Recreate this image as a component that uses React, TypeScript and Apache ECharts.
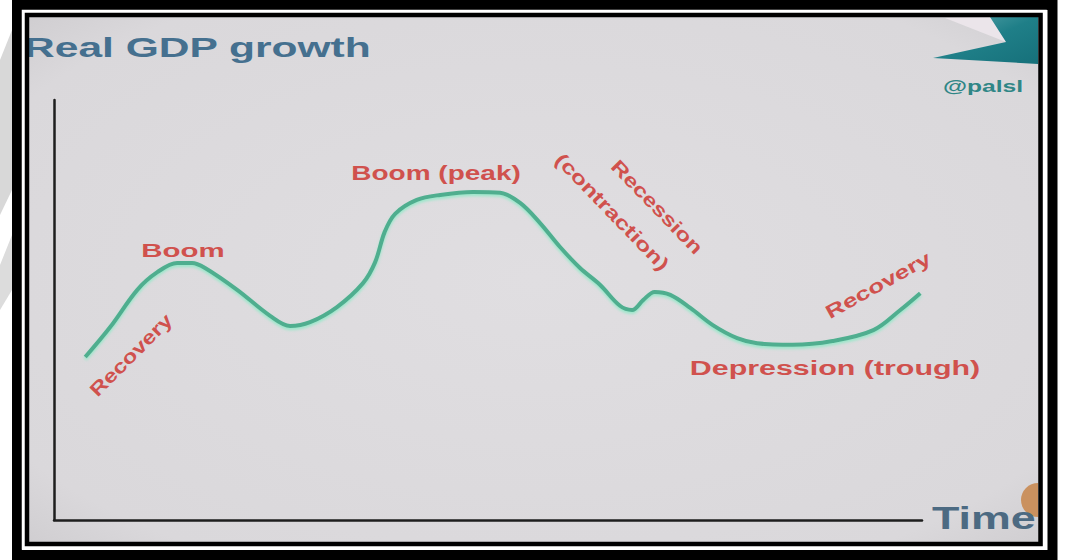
import React, { useEffect, useRef } from "react";
import * as echarts from "echarts";

// Time (x) and real GDP level (y) (arbitrary units 0–100)
const timeValues = [3.6, 6.5, 9.6, 11.9, 14.2, 15.9, 17.4, 21.1, 24.9, 27.2, 29.5, 32.6, 35.6, 37.0, 38.1, 39.3, 41.8, 44.5, 48.3, 51.4, 53.7, 56.0, 58.3, 60.6, 62.9, 65.2, 66.6, 67.9, 69.2, 71.0, 73.3, 75.9, 78.7, 81.0, 85.1, 89.7, 94.4, 97.5, 99.8];
const gdpValues = [38.8, 46.0, 54.8, 59.0, 61.2, 61.2, 60.0, 54.8, 48.6, 46.2, 47.1, 50.7, 56.4, 61.4, 68.6, 72.9, 76.2, 77.4, 78.1, 77.9, 75.5, 70.7, 65.0, 60.0, 56.0, 51.0, 50.0, 52.4, 54.3, 53.6, 50.5, 46.4, 43.3, 42.1, 41.7, 42.6, 45.2, 50.0, 54.0];

const titleText = "Real GDP growth";
const xAxisName = "Time";
const logoText = "@palsl";
const phaseLabels = ["Recovery", "Boom", "Boom (peak)", "(contraction)", "Recession", "Depression (trough)", "Recovery"];

// layout for the phase labels (centre x, centre y, rotation deg, font size, horizontal stretch)
const labelLayout = [
  [131, 355, 45, 19, 1.26],
  [183, 250, 0, 19, 1.55],
  [436, 173, 0, 20, 1.4],
  [612, 212, -46, 19, 1.33],
  [657, 207, -46, 19, 1.29],
  [835, 368, 0, 20, 1.52],
  [878, 285, 29, 19, 1.37],
];

const FONT = "'Liberation Sans', Arial, sans-serif";

export default function App() {
  const ref = useRef<HTMLDivElement>(null);

  useEffect(() => {
    const chart = echarts.init(ref.current!, null, { renderer: "svg" });
    const data = timeValues.map((t, i) => [t, gdpValues[i]]);

    const labelEls = phaseLabels.map((txt, i) => {
      const [x, y, rot, fs, sx] = labelLayout[i];
      return {
        type: "text",
        x,
        y,
        rotation: (rot * Math.PI) / 180,
        scaleX: sx,
        z: 50,
        style: {
          text: txt,
          fill: "#d0514d",
          fontSize: fs,
          fontWeight: "bold",
          fontFamily: FONT,
          align: "center",
          verticalAlign: "middle",
          shadowColor: "rgba(255,140,140,0.6)",
          shadowBlur: 3,
        },
      };
    });

    chart.setOption({
      animation: false,
      backgroundColor: "#ffffff",
      grid: { left: 54, right: 150, top: 100, bottom: 40 },
      xAxis: {
        type: "value",
        min: 0,
        max: 100,
        axisLine: { show: true, lineStyle: { color: "#1e1e1e", width: 2.5 } },
        axisTick: { show: false },
        axisLabel: { show: false },
        splitLine: { show: false },
      },
      yAxis: {
        type: "value",
        min: 0,
        max: 100,
        axisLine: { show: true, lineStyle: { color: "#1e1e1e", width: 2.5 } },
        axisTick: { show: false },
        axisLabel: { show: false },
        splitLine: { show: false },
      },
      series: [
        {
          type: "line",
          data,
          smooth: 0.35,
          symbol: "none",
          lineStyle: {
            color: "#4fae8f",
            width: 4,
            shadowColor: "rgba(130,235,195,0.8)",
            shadowBlur: 3,
            shadowOffsetY: 2,
          },
          z: 5,
        },
      ],
      graphic: [
        // watermark shapes on the white margin
        { type: "polygon", z: -20, shape: { points: [[0, 60], [12, 30], [12, 190], [0, 215]] }, style: { fill: "#d8d8d8" } },
        { type: "polygon", z: -20, shape: { points: [[0, 265], [12, 235], [12, 290], [0, 310]] }, style: { fill: "#dcdcdc" } },
        // slide background
        {
          type: "rect",
          z: -10,
          shape: { x: 25, y: 13, width: 1018, height: 533 },
          style: {
            fill: {
              type: "radial",
              x: 0.5,
              y: 0.5,
              r: 0.75,
              colorStops: [
                { offset: 0, color: "#e0dee1" },
                { offset: 0.8, color: "#dad8db" },
                { offset: 1, color: "#cbc9cc" },
              ],
            },
          },
        },
        // logo
        { type: "polygon", z: -5, shape: { points: [[945, 18], [992, 17], [1006, 42]] }, style: { fill: "#ebe5ea" } },
        {
          type: "polygon",
          z: -5,
          shape: { points: [[990, 17], [1038, 17], [1038, 64], [933, 58], [1006, 42]] },
          style: {
            fill: {
              type: "linear",
              x: 0,
              y: 0,
              x2: 1,
              y2: 1,
              colorStops: [
                { offset: 0, color: "#5ea8ae" },
                { offset: 0.5, color: "#1f7f88" },
                { offset: 1, color: "#16707a" },
              ],
            },
          },
        },
        // orange blob at right edge (only its visible left half)
        {
          type: "sector",
          z: -5,
          shape: { cx: 1038, cy: 500, r0: 0, r: 17, startAngle: Math.PI / 2, endAngle: (3 * Math.PI) / 2, clockwise: true },
          style: { fill: "#c98a52", opacity: 0.9 },
        },
        // frame
        { type: "rect", z: 100, shape: { x: 17, y: 5, width: 1035.5, height: 550 }, style: { fill: "none", stroke: "#000", lineWidth: 10 } },
        { type: "rect", z: 100, shape: { x: 23.5, y: 11.5, width: 1021.5, height: 536.5 }, style: { fill: "none", stroke: "#fff", lineWidth: 3.5 } },
        { type: "rect", z: 100, shape: { x: 27, y: 15, width: 1013.5, height: 529 }, style: { fill: "none", stroke: "#000", lineWidth: 4.5 } },
        // logo text
        {
          type: "text",
          x: 943,
          y: 86,
          scaleX: 1.45,
          z: 10,
          style: {
            text: logoText,
            fill: "#2f8686",
            fontSize: 17,
            fontWeight: "bold",
            fontFamily: FONT,
            align: "left",
            verticalAlign: "middle",
          },
        },
        // title
        {
          type: "text",
          x: 24,
          y: 47,
          scaleX: 1.52,
          z: 10,
          style: {
            text: titleText,
            fill: "#45708f",
            fontSize: 28,
            fontWeight: "bold",
            fontFamily: FONT,
            align: "left",
            verticalAlign: "middle",
            shadowColor: "rgba(120,190,220,0.6)",
            shadowBlur: 3,
          },
        },
        // axis name
        {
          type: "text",
          x: 932,
          y: 518,
          scaleX: 1.4,
          z: 10,
          style: {
            text: xAxisName,
            fill: "#4c6a82",
            fontSize: 32,
            fontWeight: "bold",
            fontFamily: FONT,
            align: "left",
            verticalAlign: "middle",
          },
        },
        ...labelEls,
      ],
    });

    return () => chart.dispose();
  }, []);

  return (
    <div
      ref={ref}
      style={{ position: "fixed", left: 0, top: 0, width: 1072, height: 560, background: "#fff" }}
    />
  );
}
